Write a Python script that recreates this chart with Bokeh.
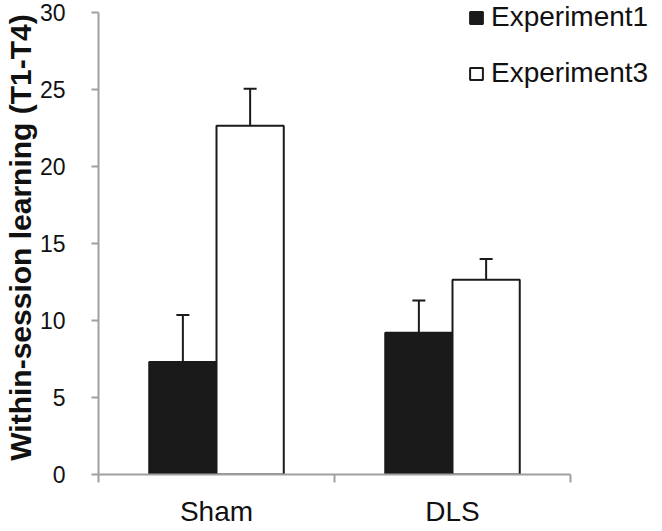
from bokeh.plotting import figure
from bokeh.models import (ColumnDataSource, Range1d, FixedTicker, Whisker, TeeHead,
                          Legend, LegendItem)
from bokeh.embed import file_html
from bokeh.resources import INLINE

# ---- data ----
categories = ["Sham", "DLS"]
exp1_mean = [7.3, 9.2]
exp1_err = [3.05, 2.1]
exp3_mean = [22.65, 12.65]
exp3_err = [2.4, 1.35]
y_ticks = [0, 5, 10, 15, 20, 25, 30]

FONT = "Liberation Sans"
TXT = "#111111"
AX = "#a0a0a0"
BAR_W = 0.285
OFF = BAR_W / 2

# layout (pixels)
AXIS_W = 472      # width of the x axis
FRAME_W = 565     # frame extends right so the legend fits inside
AXIS_H = 462      # height of the y axis (0..30)
FRAME_H = 474     # frame extends above 30 so the legend fits inside
n = len(categories)
x_end = n * FRAME_W / AXIS_W
y_top = y_ticks[-1]
y_end = y_top * FRAME_H / AXIS_H

centers = [i + 0.5 for i in range(n)]
src1 = ColumnDataSource(dict(
    x=[c - OFF for c in centers], top=exp1_mean,
    upper=[m + e for m, e in zip(exp1_mean, exp1_err)], lower=exp1_mean))
src3 = ColumnDataSource(dict(
    x=[c + OFF for c in centers], top=exp3_mean,
    upper=[m + e for m, e in zip(exp3_mean, exp3_err)], lower=exp3_mean))

p = figure(frame_width=FRAME_W, frame_height=FRAME_H, output_backend="svg",
           toolbar_location=None,
           x_range=Range1d(0, x_end), y_range=Range1d(0, y_end),
           min_border_left=97, min_border_right=0, min_border_top=0, min_border_bottom=10)
p.outline_line_color = None
p.xgrid.visible = False
p.ygrid.visible = False
p.background_fill_color = "white"

r1 = p.vbar(x="x", top="top", width=BAR_W, source=src1, fill_color="#1a1a1a",
            line_color="#1a1a1a", line_width=2)
r3 = p.vbar(x="x", top="top", width=BAR_W, source=src3, fill_color="white",
            line_color="#1a1a1a", line_width=2)

for s in (src1, src3):
    w = Whisker(base="x", upper="upper", lower="lower", source=s,
                lower_head=None,
                upper_head=TeeHead(size=13, line_width=2, line_color="#1a1a1a"),
                line_width=2, line_color="#1a1a1a")
    p.add_layout(w)

# x axis: labels at category centres, ticks at category borders
xa = p.xaxis[0]
xa.bounds = (0, n)
xa.ticker = FixedTicker(ticks=centers, minor_ticks=list(range(n + 1)))
xa.major_label_overrides = {c: name for c, name in zip(centers, categories)}
xa.major_tick_out = 0
xa.major_tick_in = 0
xa.minor_tick_out = 8
xa.minor_tick_in = 0
xa.minor_tick_line_color = AX
xa.minor_tick_line_width = 2
xa.axis_line_color = AX
xa.axis_line_width = 2
xa.major_label_text_font = FONT
xa.major_label_text_font_size = "28px"
xa.major_label_text_color = TXT
xa.major_label_standoff = 13

ya = p.yaxis[0]
ya.bounds = (0, y_top)
ya.ticker = FixedTicker(ticks=y_ticks, minor_ticks=[])
ya.major_tick_out = 7
ya.major_tick_in = 0
ya.major_tick_line_color = AX
ya.major_tick_line_width = 2
ya.axis_line_color = AX
ya.axis_line_width = 2
ya.major_label_text_font = FONT
ya.major_label_text_font_size = "23px"
ya.major_label_text_color = TXT
ya.major_label_standoff = 26
ya.axis_label = "Within-session learning (T1-T4)"
ya.axis_label_text_font = FONT
ya.axis_label_text_font_size = "30px"
ya.axis_label_text_font_style = "bold"
ya.axis_label_text_color = TXT
ya.axis_label_standoff = 0

legend = Legend(items=[LegendItem(label="Experiment1", renderers=[r1]),
                       LegendItem(label="Experiment3", renderers=[r3])],
                location=(370, 385), orientation="vertical",
                padding=0, margin=0, spacing=24,
                glyph_width=16, glyph_height=15, label_height=30,
                label_standoff=7, border_line_color=None,
                background_fill_alpha=0,
                label_text_font=FONT, label_text_font_size="28px",
                label_text_color=TXT)
p.add_layout(legend, "center")

open("out.html", "w").write(file_html(p, INLINE))
